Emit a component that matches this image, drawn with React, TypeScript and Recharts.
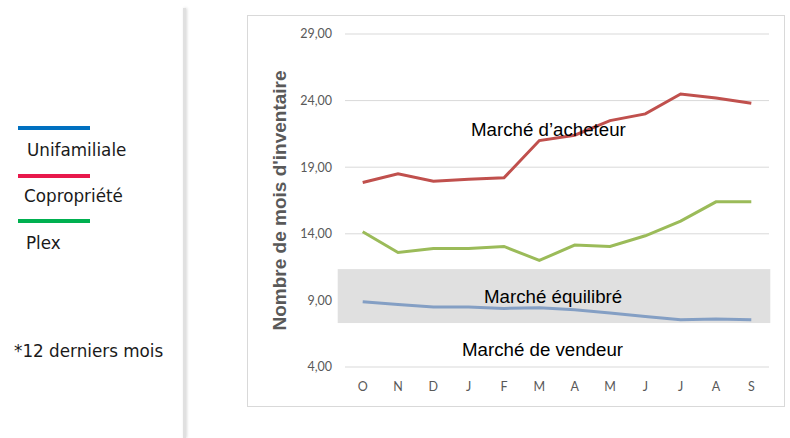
import { CartesianGrid, Line, LineChart, ReferenceArea, XAxis, YAxis } from "recharts";

const months = ["O", "N", "D", "J", "F", "M", "A", "M", "J", "J", "A", "S"];
const unifamiliale = [8.9, 8.7, 8.5, 8.5, 8.4, 8.45, 8.3, 8.05, 7.8, 7.55, 7.6, 7.55];
const copropriete = [17.85, 18.5, 17.95, 18.1, 18.2, 21.0, 21.4, 22.5, 23.0, 24.5, 24.2, 23.8];
const plex = [14.15, 12.6, 12.9, 12.9, 13.05, 12.0, 13.15, 13.05, 13.85, 14.95, 16.4, 16.4];
const yTicks = [4, 9, 14, 19, 24, 29];
const balancedBand = [7.3, 11.35];

const data = months.map((m, i) => ({
  month: m,
  idx: i,
  unifamiliale: unifamiliale[i],
  copropriete: copropriete[i],
  plex: plex[i],
}));

const legendItems = [
  { label: "Unifamiliale", color: "#0070c0", lineTop: 126, textTop: 139, textLeft: 27 },
  { label: "Copropriété", color: "#e8194c", lineTop: 174, textTop: 185, textLeft: 24 },
  { label: "Plex", color: "#00b050", lineTop: 219, textTop: 232, textLeft: 26 },
];

const fmt = (v: number) => v.toFixed(2).replace(".", ",");

const tickFont = { fontFamily: "Lato, 'Noto Sans', sans-serif", fontSize: 12.5, fill: "#595959" };
const noteFont = { fontFamily: "Arial, 'Liberation Sans', sans-serif", fontSize: 18.7, color: "#000", lineHeight: "22px" };
const legendFont = { fontFamily: "'DejaVu Sans', sans-serif", fontSize: 16.8, color: "#1a1a1a", lineHeight: "22px" };

export default function App() {
  return (
    <div style={{ position: "absolute", left: 0, top: 0, width: 790, height: 438, background: "#fff", overflow: "hidden" }}>
      {legendItems.map((it) => (
        <div key={it.label}>
          <div style={{ position: "absolute", left: 18, top: it.lineTop, width: 72, height: 4, background: it.color }} />
          <div style={{ position: "absolute", left: it.textLeft, top: it.textTop, ...legendFont }}>{it.label}</div>
        </div>
      ))}
      <div style={{ position: "absolute", left: 14, top: 340, ...legendFont }}>*12 derniers mois</div>

      <div style={{ position: "absolute", left: 183, top: 8, width: 3, height: 430, background: "#e0e0e0", boxShadow: "1px 0 3px #d8d8d8" }} />

      <div style={{ position: "absolute", left: 247, top: 15, width: 538, height: 392, border: "1px solid #d9d9d9", boxSizing: "border-box" }}>
        <LineChart width={536} height={390} data={data} margin={{ top: 18, right: 15, bottom: 9, left: 0 }}>
          <CartesianGrid vertical={false} stroke="#d9d9d9" />
          <ReferenceArea
            y1={balancedBand[0]}
            y2={balancedBand[1]}
            fill="#e0e0e0"
            fillOpacity={1}
            stroke="none"
            shape={(p: any) => <rect x={p.x - 25} y={p.y} width={p.width + 44} height={p.height} fill="#e0e0e0" />}
          />
          <XAxis
            dataKey="idx"
            type="category"
            tickFormatter={(v: number) => months[v]}
            axisLine={false}
            tickLine={false}
            tickMargin={9}
            height={30}
            padding={{ left: 17.7, right: 17.7 }}
            tick={tickFont}
            interval={0}
          />
          <YAxis
            domain={[4, 29]}
            ticks={yTicks}
            tickFormatter={fmt}
            axisLine={false}
            tickLine={false}
            tickMargin={7}
            width={97}
            tick={tickFont}
            label={{
              value: "Nombre de mois d'inventaire",
              angle: -90,
              position: "insideLeft",
              offset: 31,
              style: { textAnchor: "middle", fontFamily: "Arial, 'Liberation Sans', sans-serif", fontWeight: 700, fontSize: 19, fill: "#595959" },
            }}
          />
          <Line type="linear" dataKey="unifamiliale" stroke="#849fc4" strokeWidth={3} dot={false} isAnimationActive={false} />
          <Line type="linear" dataKey="copropriete" stroke="#c0504d" strokeWidth={3} dot={false} isAnimationActive={false} />
          <Line type="linear" dataKey="plex" stroke="#9bbb59" strokeWidth={3} dot={false} isAnimationActive={false} />
        </LineChart>
      </div>

      <div style={{ position: "absolute", left: 471, top: 119, ...noteFont }}>Marché d’acheteur</div>
      <div style={{ position: "absolute", left: 484, top: 286, ...noteFont }}>Marché équilibré</div>
      <div style={{ position: "absolute", left: 462, top: 339, ...noteFont }}>Marché de vendeur</div>
    </div>
  );
}
